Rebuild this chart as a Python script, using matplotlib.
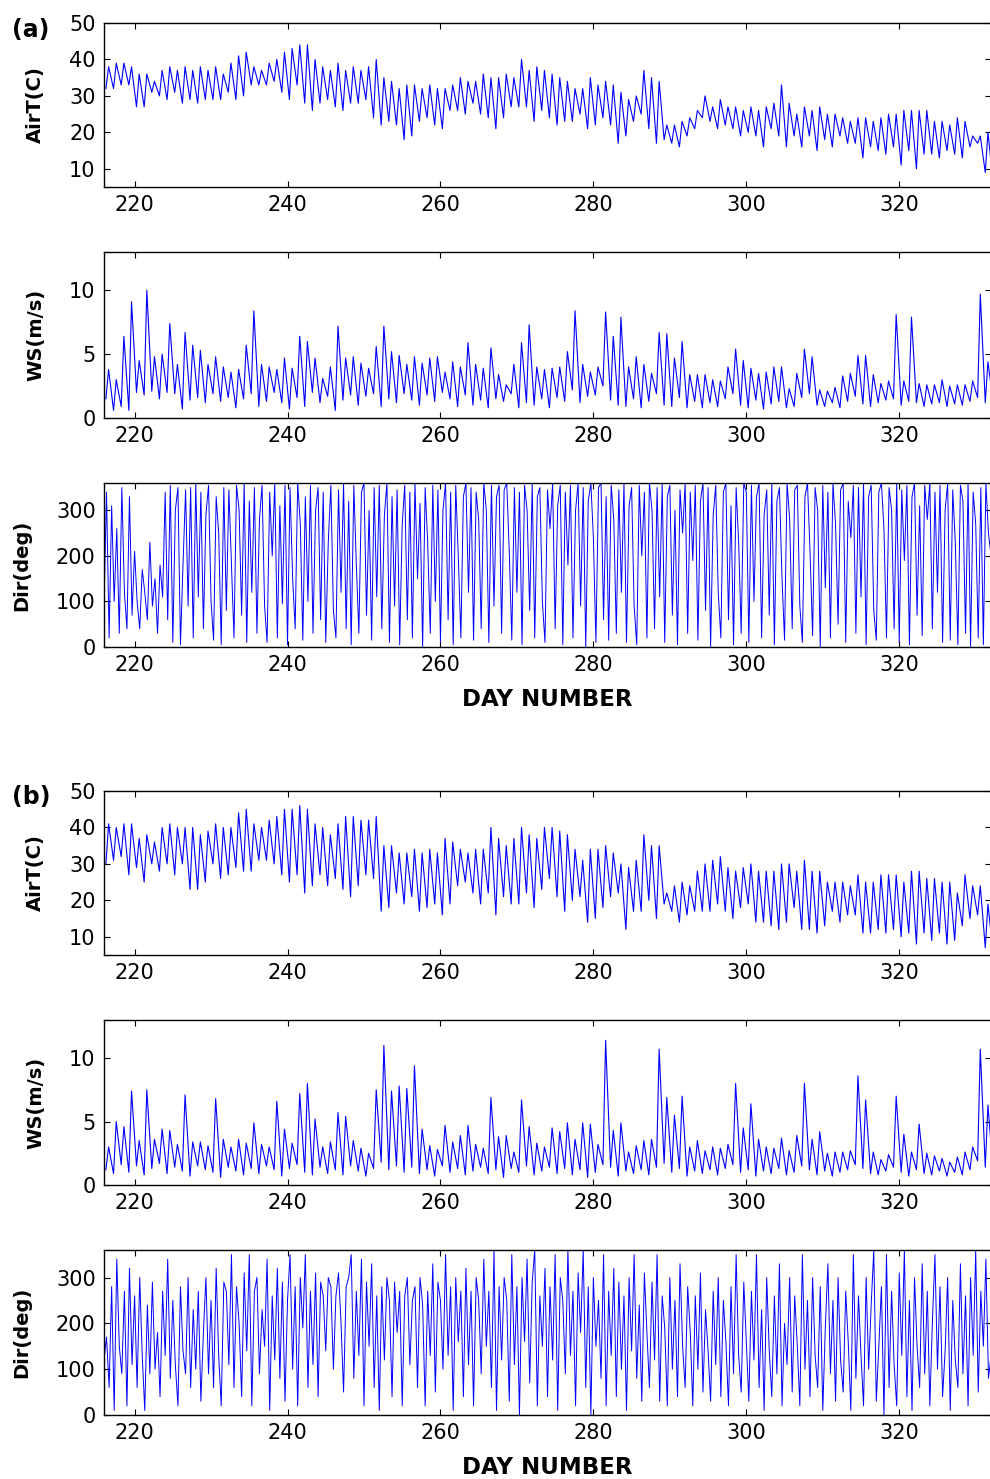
import numpy as np
import matplotlib.pyplot as plt

# day numbers 216..332, one daily low and one daily high per day
days = np.arange(216, 333)

# (a) air temperature, daily highs / lows (C)
air_a_high = [38, 39, 39, 38, 36, 36, 34, 37, 38, 37,
              38, 37, 38, 37, 38, 36, 39, 41, 42, 38,
              37, 39, 40, 42, 43, 44, 44, 40, 38, 37,
              39, 37, 38, 37, 38, 40, 35, 34, 32, 33,
              33, 32, 33, 32, 32, 33, 35, 34, 34, 36,
              35, 35, 36, 35, 40, 37, 38, 37, 36, 35,
              34, 32, 32, 35, 33, 34, 33, 31, 29, 30,
              37, 35, 34, 22, 22, 23, 24, 26, 30, 27,
              29, 27, 27, 26, 27, 26, 27, 28, 33, 28,
              25, 27, 26, 27, 25, 25, 24, 23, 24, 24,
              23, 24, 25, 25, 26, 26, 26, 26, 23, 23,
              22, 24, 23, 19, 19, 20, 8]
air_a_low = [32, 32, 33, 33, 27, 27, 31, 30, 29, 31,
             28, 29, 28, 29, 29, 29, 31, 29, 30, 33,
             33, 33, 34, 31, 29, 33, 28, 26, 28, 29,
             27, 26, 28, 28, 29, 24, 22, 23, 22, 18,
             19, 23, 24, 22, 21, 26, 26, 25, 28, 25,
             24, 21, 24, 27, 27, 27, 23, 26, 24, 22,
             23, 23, 25, 21, 22, 24, 22, 17, 19, 23,
             25, 21, 17, 18, 17, 16, 19, 21, 24, 23,
             21, 22, 21, 19, 20, 19, 16, 21, 19, 16,
             19, 16, 19, 15, 18, 16, 19, 17, 17, 13,
             16, 15, 14, 16, 11, 15, 10, 14, 14, 13,
             15, 14, 13, 16, 17, 9, 7]

# (a) wind speed, daily highs / lows (m/s)
ws_a_high = [3.8, 3.0, 6.4, 9.1, 4.5, 10.0, 4.8, 5.0, 7.4, 4.2,
             6.7, 5.7, 5.3, 4.2, 4.8, 4.0, 3.6, 3.8, 5.7, 8.4,
             4.2, 4.0, 3.8, 4.7, 3.9, 6.4, 6.0, 4.7, 3.1, 4.0,
             7.2, 4.7, 4.8, 4.3, 3.9, 5.6, 7.2, 5.2, 4.9, 4.2,
             4.8, 4.3, 4.7, 4.8, 3.6, 4.4, 4.0, 5.9, 4.2, 3.9,
             5.5, 3.4, 2.6, 4.2, 5.9, 7.3, 4.0, 3.8, 3.9, 4.0,
             5.2, 8.4, 4.2, 3.6, 4.0, 8.3, 6.4, 7.9, 4.0, 4.8,
             4.2, 3.5, 6.7, 6.6, 4.7, 6.0, 3.4, 3.4, 3.4, 3.0,
             2.9, 4.0, 5.4, 4.5, 3.9, 3.5, 3.6, 4.0, 4.0, 2.3,
             3.5, 5.4, 4.8, 2.2, 2.1, 2.4, 3.3, 3.5, 4.9, 4.9,
             3.4, 2.7, 2.9, 8.1, 2.9, 7.9, 2.7, 2.6, 2.6, 3.0,
             2.5, 2.6, 2.6, 2.9, 9.7, 4.4, 1.5]
ws_a_low = [1.5, 0.6, 0.9, 0.6, 2.0, 1.8, 2.1, 1.5, 2.0, 1.9,
            0.7, 1.4, 1.6, 1.2, 1.9, 1.3, 1.6, 0.8, 1.5, 1.9,
            0.9, 1.3, 2.0, 1.2, 0.7, 1.6, 0.9, 2.0, 1.2, 1.7,
            0.6, 1.4, 1.8, 1.0, 1.7, 1.9, 0.9, 1.5, 1.2, 1.9,
            1.4, 1.0, 1.8, 1.3, 2.0, 1.5, 0.9, 1.8, 1.0, 1.4,
            0.8, 1.5, 1.3, 1.9, 0.8, 1.2, 1.0, 1.5, 0.8, 1.6,
            1.3, 2.2, 1.2, 1.7, 1.8, 2.5, 1.4, 1.0, 0.9, 1.5,
            0.8, 1.3, 1.9, 1.0, 0.9, 1.6, 0.8, 1.3, 0.8, 1.2,
            0.9, 1.5, 1.9, 1.0, 0.8, 1.4, 0.7, 1.1, 1.3, 0.8,
            0.9, 1.6, 1.9, 1.0, 0.9, 1.2, 0.8, 1.3, 1.7, 1.1,
            0.9, 1.2, 1.4, 1.5, 1.0, 1.3, 1.2, 0.9, 1.1, 1.2,
            0.9, 1.1, 1.0, 1.3, 1.6, 1.2, 1.4]

# (a) wind direction, three readings per day (deg)
dir_a = [90, 340, 20, 310, 100, 260, 30, 350, 120, 40, 330, 70,
         210, 100, 40, 170, 120, 60, 230, 90, 150, 30, 180, 110,
         340, 60, 355, 10, 300, 350, 5, 180, 345, 90, 350, 20,
         360, 110, 340, 40, 290, 355, 100, 15, 330, 250, 5, 350,
         80, 345, 180, 20, 355, 300, 70, 360, 10, 320, 120, 350,
         30, 280, 355, 90, 10, 340, 200, 360, 20, 310, 95, 355,
         5, 350, 150, 40, 360, 270, 15, 330, 100, 355, 30, 300,
         350, 60, 340, 10, 230, 355, 80, 20, 345, 120, 360, 40,
         320, 5, 355, 180, 30, 340, 360, 70, 300, 15, 350, 110,
         355, 40, 290, 360, 10, 330, 90, 345, 5, 270, 355, 60,
         340, 20, 360, 150, 315, 0, 350, 230, 30, 355, 100, 345,
         10, 300, 360, 60, 340, 5, 355, 200, 20, 330, 360, 120,
         350, 15, 340, 280, 40, 360, 300, 10, 355, 90, 330, 355,
         30, 345, 360, 210, 15, 350, 120, 340, 5, 355, 300, 80,
         360, 20, 330, 350, 100, 10, 345, 260, 360, 40, 310, 355,
         5, 340, 180, 355, 20, 300, 360, 90, 350, 0, 320, 360,
         240, 10, 350, 360, 60, 330, 15, 355, 280, 30, 345, 120,
         360, 10, 310, 350, 90, 5, 355, 200, 340, 20, 360, 300,
         40, 350, 110, 360, 10, 330, 355, 70, 300, 5, 345, 250,
         360, 30, 340, 190, 355, 15, 320, 360, 80, 350, 0, 290,
         355, 120, 20, 340, 360, 60, 310, 5, 350, 230, 30, 360,
         340, 10, 355, 100, 330, 360, 20, 290, 345, 70, 360, 5,
         320, 350, 150, 15, 360, 280, 40, 345, 355, 90, 10, 330,
         360, 210, 25, 350, 300, 0, 355, 130, 340, 20, 360, 270,
         50, 345, 360, 10, 320, 240, 355, 30, 350, 110, 360, 5,
         330, 355, 80, 15, 340, 360, 260, 20, 350, 300, 40, 360,
         10, 345, 190, 355, 5, 330, 360, 70, 310, 25, 355, 280,
         360, 40, 340, 120, 355, 10, 300, 360, 15, 345, 230, 5,
         355, 320, 30, 360, 0, 340, 270, 20, 350, 5, 360, 250,
         200, 240, 260]

# (b) air temperature
air_b_high = [41, 40, 41, 41, 37, 38, 36, 40, 41, 40,
              40, 40, 38, 39, 41, 40, 40, 44, 45, 41,
              40, 42, 43, 45, 45, 46, 45, 41, 40, 38,
              41, 43, 43, 42, 42, 43, 35, 35, 33, 33,
              34, 33, 34, 33, 37, 36, 34, 33, 34, 34,
              40, 37, 35, 37, 40, 38, 37, 40, 40, 39,
              38, 34, 31, 34, 34, 35, 33, 30, 29, 31,
              38, 35, 35, 22, 24, 25, 24, 28, 30, 31,
              32, 29, 28, 29, 30, 28, 28, 28, 30, 30,
              28, 31, 28, 28, 25, 25, 25, 24, 27, 25,
              25, 27, 27, 27, 25, 28, 28, 26, 26, 25,
              25, 22, 27, 24, 24, 19, 7]
air_b_low = [30, 31, 32, 27, 29, 25, 30, 28, 30, 27,
             30, 23, 23, 25, 30, 26, 27, 29, 28, 28,
             31, 31, 30, 27, 25, 27, 22, 24, 27, 24,
             26, 23, 21, 24, 27, 26, 17, 18, 22, 19,
             21, 17, 18, 19, 16, 19, 24, 25, 22, 19,
             22, 16, 21, 19, 19, 22, 18, 23, 26, 21,
             17, 20, 21, 14, 15, 18, 21, 22, 12, 17,
             17, 20, 15, 19, 17, 14, 16, 17, 17, 17,
             19, 17, 15, 18, 19, 14, 14, 13, 12, 14,
             18, 12, 12, 11, 13, 17, 14, 16, 16, 11,
             11, 12, 11, 12, 10, 11, 8, 11, 9, 11,
             8, 9, 13, 15, 16, 7, 6]

# (b) wind speed
ws_b_high = [3.0, 5.0, 4.6, 7.4, 3.5, 7.5, 3.6, 4.4, 4.3, 3.2,
             7.1, 3.4, 3.4, 3.1, 6.8, 3.6, 3.0, 3.6, 3.3, 4.9,
             3.2, 3.0, 6.6, 4.4, 3.3, 7.2, 8.0, 5.2, 3.0, 3.4,
             5.7, 5.4, 3.5, 2.9, 2.5, 7.5, 11.0, 7.4, 7.8, 7.6,
             9.4, 4.4, 3.1, 2.8, 4.7, 3.4, 3.9, 4.7, 3.2, 2.9,
             6.9, 3.8, 3.9, 2.6, 6.7, 4.6, 3.3, 3.0, 4.5, 4.2,
             4.9, 3.6, 4.9, 4.8, 3.2, 11.4, 4.3, 4.9, 2.6, 3.1,
             3.5, 3.6, 10.7, 6.9, 5.5, 7.0, 3.0, 3.5, 2.7, 3.0,
             2.9, 3.2, 8.0, 4.5, 6.4, 3.6, 3.0, 2.9, 3.7, 2.7,
             3.9, 8.0, 3.6, 4.2, 2.5, 2.6, 2.6, 2.7, 8.6, 6.7,
             2.6, 2.0, 2.4, 7.0, 4.0, 2.6, 4.8, 2.5, 2.3, 2.1,
             1.8, 2.2, 2.6, 3.0, 10.7, 6.3, 2.0]
ws_b_low = [1.2, 0.9, 1.6, 1.0, 1.5, 0.8, 1.3, 1.7, 0.9, 1.4,
            1.1, 0.7, 1.5, 1.2, 1.0, 0.6, 1.4, 1.1, 0.8, 1.3,
            0.9, 1.5, 1.2, 0.7, 1.3, 1.6, 1.0, 0.8, 1.4, 0.9,
            1.2, 0.8, 1.5, 1.1, 0.7, 1.3, 1.8, 1.2, 1.5, 1.0,
            1.4, 0.9, 1.2, 0.7, 1.5, 1.0, 1.3, 0.8, 1.1, 1.4,
            0.9, 1.2, 0.6, 1.3, 1.0, 1.5, 0.8, 1.1, 1.4, 0.9,
            1.3, 0.8, 1.2, 0.6, 1.0, 1.6, 1.4, 0.7, 1.1, 0.9,
            1.2, 0.8, 1.4, 1.7, 1.0, 1.3, 0.7, 1.1, 0.9, 1.2,
            0.8, 1.3, 1.6, 1.0, 1.2, 0.7, 1.1, 0.9, 1.3, 0.8,
            1.0, 1.5, 1.2, 0.8, 1.1, 0.7, 1.0, 1.2, 1.6, 1.3,
            0.9, 0.8, 1.1, 1.4, 1.0, 0.7, 1.2, 0.9, 0.8, 1.1,
            0.7, 1.0, 0.8, 1.2, 1.9, 1.4, 1.3]

# (b) wind direction
dir_b = [120, 170, 60, 280, 10, 340, 150, 90, 270, 20, 320, 110,
         260, 60, 300, 130, 10, 240, 90, 290, 100, 180, 40, 270,
         130, 340, 80, 250, 110, 20, 280, 140, 90, 300, 60, 230,
         100, 270, 30, 180, 300, 90, 250, 60, 320, 130, 20, 290,
         270, 110, 350, 60, 280, 200, 40, 310, 140, 350, 20, 270,
         300, 90, 230, 150, 340, 10, 260, 120, 320, 80, 290, 30,
         250, 350, 100, 280, 20, 300, 190, 350, 60, 270, 110, 310,
         40, 290, 260, 140, 300, 280, 100, 260, 310, 200, 50, 280,
         300, 350, 80, 270, 130, 340, 20, 290, 150, 330, 60, 260,
         10, 280, 120, 300, 250, 40, 290, 180, 270, 20, 260, 300,
         110, 250, 280, 60, 300, 240, 20, 270, 130, 330, 50, 290,
         250, 100, 350, 130, 280, 10, 300, 160, 270, 40, 320, 110,
         270, 20, 300, 250, 90, 340, 150, 270, 60, 360, 10, 280,
         120, 300, 250, 30, 350, 110, 280, 0, 300, 160, 340, 70,
         290, 360, 20, 260, 150, 320, 40, 280, 120, 350, 10, 300,
         250, 90, 360, 130, 270, 20, 310, 180, 360, 60, 280, 0,
         300, 150, 250, 80, 350, 20, 270, 130, 320, 40, 290, 100,
         260, 10, 300, 140, 350, 80, 240, 30, 310, 180, 60, 290,
         120, 350, 30, 260, 190, 20, 300, 100, 250, 40, 330, 150,
         60, 280, 180, 20, 260, 100, 310, 50, 230, 140, 30, 270,
         110, 300, 40, 250, 160, 20, 280, 90, 350, 130, 50, 290,
         160, 30, 270, 120, 350, 60, 230, 10, 300, 140, 40, 260,
         90, 330, 20, 200, 110, 300, 50, 260, 150, 20, 350, 100,
         250, 40, 300, 130, 60, 280, 10, 190, 330, 90, 250, 30,
         300, 120, 50, 270, 160, 10, 350, 80, 260, 130, 20, 300,
         100, 240, 360, 30, 150, 280, 0, 350, 60, 270, 110, 20,
         310, 130, 360, 40, 250, 10, 300, 150, 60, 330, 90, 270,
         20, 200, 350, 100, 280, 40, 140, 300, 10, 250, 120, 60,
         330, 90, 260, 20, 300, 130, 360, 50, 270, 150, 340, 80,
         130, 120, 110]

x_ticks = [220, 240, 260, 280, 300, 320]
x_range = (216, 332)


def two_per_day(high, low):
    t = np.column_stack([days + 0.25, days + 0.6]).ravel()
    v = np.column_stack([low, high]).ravel()
    return t, v


def three_per_day(vals):
    t = np.column_stack([days, days + 0.33, days + 0.67]).ravel()
    return t, np.asarray(vals, dtype=float)


def style(ax, ylim, yticks, ylabel, label_x):
    ax.set_xlim(*x_range)
    ax.set_ylim(*ylim)
    ax.set_xticks(x_ticks)
    ax.set_yticks(yticks)
    ax.tick_params(direction="in", top=True, right=True, length=4, width=0.8,
                   labelsize=15, pad=6)
    for s in ax.spines.values():
        s.set_linewidth(1.0)
    ax.set_ylabel(ylabel, fontsize=14, fontweight="bold", va="center")
    ax.yaxis.set_label_coords(label_x, 0.5)


fig = plt.figure(figsize=(9.9, 14.79), dpi=100)

W, H = 990.0, 1479.0
left = 104 / W
width = 887 / W
tops = [23, 252, 483, 791, 1020, 1250]
bottoms = [187, 418, 647, 955, 1185, 1415]

axes = []
for t, b in zip(tops, bottoms):
    axes.append(fig.add_axes([left, 1 - b / H, width, (b - t) / H]))

groups = [
    (air_a_high, air_a_low, ws_a_high, ws_a_low, dir_a),
    (air_b_high, air_b_low, ws_b_high, ws_b_low, dir_b),
]

for k, (ah, al, wh, wl, dr) in enumerate(groups):
    ax_t, ax_w, ax_d = axes[3 * k:3 * k + 3]

    t, v = two_per_day(ah, al)
    ax_t.plot(t, v, color="blue", lw=0.8)
    style(ax_t, (5, 50), [10, 20, 30, 40, 50], "AirT(C)", -0.077)

    t, v = two_per_day(wh, wl)
    ax_w.plot(t, v, color="blue", lw=0.8)
    style(ax_w, (0, 13), [0, 5, 10], "WS(m/s)", -0.077)

    t, v = three_per_day(dr)
    ax_d.plot(t, v, color="blue", lw=0.7)
    style(ax_d, (0, 360), [0, 100, 200, 300], "Dir(deg)", -0.093)
    ax_d.set_xlabel("DAY NUMBER", fontsize=16.5, fontweight="bold", va="center")
    ax_d.xaxis.set_label_coords(0.5, -0.32)

fig.text(31 / W, 1 - 30 / H, "(a)", fontsize=17, fontweight="bold",
         ha="center", va="center")
fig.text(31 / W, 1 - 797 / H, "(b)", fontsize=17, fontweight="bold",
         ha="center", va="center")

fig.savefig("out.png", dpi=100)
